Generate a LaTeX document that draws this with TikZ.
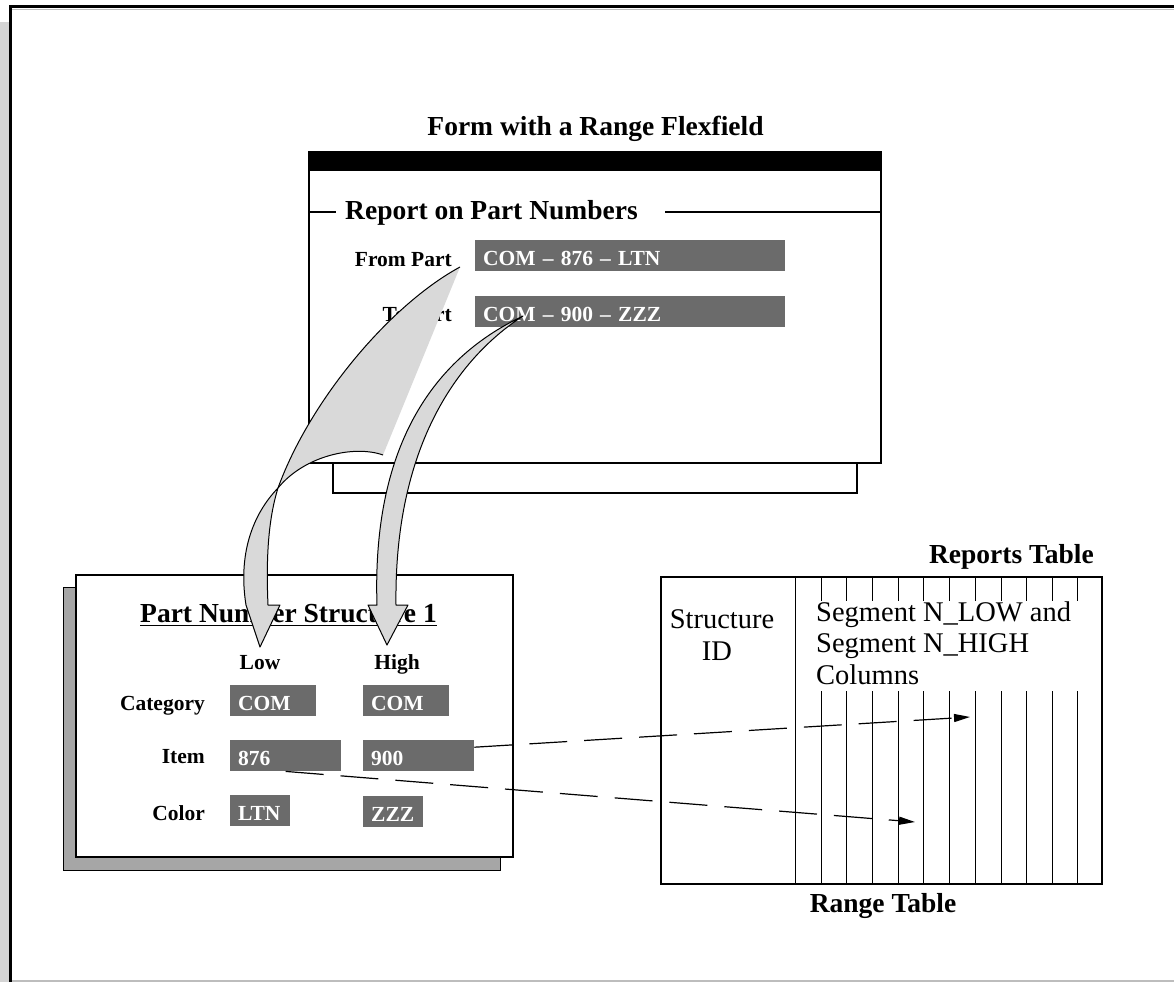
\documentclass[tikz,border=0pt]{standalone}
\usepackage{fontspec}
\setmainfont{Liberation Serif}
\usetikzlibrary{arrows.meta}
\definecolor{fieldgray}{HTML}{6B6B6B}
\definecolor{ribgray}{HTML}{D9D9D9}
\definecolor{shadowgray}{HTML}{A6A6A6}
\definecolor{stripgray}{HTML}{D4D4D4}
\definecolor{linegray}{HTML}{BDBDBD}
\newcommand\fsm{\fontsize{21.5}{26}\selectfont\bfseries}
\newcommand\flg{\fontsize{27.5}{32}\selectfont\bfseries}
\newcommand\freg{\fontsize{28.5}{32}\selectfont}
\tikzset{
  field/.style={fill=fieldgray, text=white, font=\fsm, inner xsep=8pt, inner ysep=0pt,
    minimum height=31pt, anchor=north west, align=left, text height=19pt, text depth=0pt},
  lbl/.style={font=\fsm, inner sep=0pt, anchor=base east},
  big/.style={font=\flg, inner sep=0pt, anchor=base},
  reg/.style={font=\freg, inner sep=0pt, anchor=base west},
  ribbon/.style={fill=ribgray, draw=black, line width=1pt, line join=round},
  outline/.style={draw=black, line width=1pt},
  dasharrow/.style={line width=1.2pt, dash pattern=on 38pt off 17pt, -{Triangle[length=16pt,width=8pt]}},
  thinline/.style={line width=0.9pt},
}
\begin{document}
\begin{tikzpicture}[x=1pt,y=-1pt]
\useasboundingbox (0,0) rectangle (1174,982);
% frame
\fill[stripgray] (0,22) rectangle (9,982);
\draw[line width=3pt] (10.5,982) -- (10.5,7) -- (1174,7);
\draw[linegray, line width=1pt] (12,9.5) -- (1174,9.5);
\draw[linegray, line width=1.5pt] (12,981) -- (1174,981);

% form window
\draw[line width=2pt, fill=white] (333,463) rectangle (857,493);
\draw[line width=2.5pt, fill=white] (309,152) rectangle (881,463);
\fill (309,152) rectangle (881,171);
\draw[line width=2pt] (309,212) -- (336,212) (665,212) -- (881,212);
\node[big] (formt) at (595.5,135) {Form with a Range Flexfield};
\node[big, anchor=base west] (grp) at (345,219) {Report on Part Numbers};
\node[lbl] (fromlbl) at (452,266) {From Part};
\node[lbl] (tolbl) at (452,321) {To Part};
\node[field, text width=294pt] (fromf) at (475,240) {COM -- 876 -- LTN};
\node[field, text width=294pt] (tof) at (475,296) {COM -- 900 -- ZZZ};

% part number structure box
\draw[thinline, fill=shadowgray] (63,587) rectangle (500,870);
\draw[line width=2.5pt, fill=white] (76,575) rectangle (513,857);
\node[big] (pnst) at (288.5,622) {Part Number Structure 1};
\draw[line width=1.8pt] ([yshift=-3.5pt]pnst.base west) -- ([yshift=-3.5pt]pnst.base east);
\node[lbl, anchor=base] (low) at (260,669) {Low};
\node[lbl, anchor=base] (high) at (397,669) {High};
\node[lbl] (cat) at (205,710.5) {Category};
\node[lbl] (item) at (205,763) {Item};
\node[lbl] (color) at (205,820) {Color};
\node[field, text width=70pt] (catlow) at (230,685) {COM};
\node[field, text width=70pt] (cathigh) at (363,685) {COM};
\node[field, text width=95pt] (itemlow) at (230,740) {876};
\node[field, text width=95pt] (itemhigh) at (363,740) {900};
\node[field, text width=44pt] (colorlow) at (230,795) {LTN};
\node[field, text width=44pt] (colorhigh) at (363,796) {ZZZ};

% table
\draw[line width=2.5pt] (661,577) rectangle (1102,884);
\draw[thinline] (795,577) -- (795,884);
\foreach \x in {821,846.5,872,898,923.5,949,975,1001,1026.5,1052,1077.5}{
  \draw[thinline] (\x,577) -- (\x,601) (\x,691) -- (\x,884);
}
\node[big, anchor=base east] (rept) at (1094,563) {Reports Table};
\node[big] (rangt) at (883,912) {Range Table};
\node[font=\freg, inner sep=0pt, anchor=base] (str1) at (722,628) {Structure};
\node[font=\freg, inner sep=0pt, anchor=base] (str2) at (717,660) {ID};
\node[reg] (seg1) at (816,621) {Segment N\_LOW and};
\node[reg] (seg2) at (816,652) {Segment N\_HIGH};
\node[reg] (seg3) at (816,684) {Columns};

% dashed arrows
\coordinate (t1) at (970,717);
\coordinate (t2) at (915,822);
\draw[dasharrow] ([yshift=8.5pt]itemhigh.east) -- (t1);
\draw[dasharrow] (itemlow.south) -- (t2);

% curved ribbon arrows
\path[fill=ribgray] (460,267) -- (383,455) .. controls (355,445) and (305,455) .. (278,488)
   .. controls (310,400) and (390,305) .. (460,267) -- cycle;
\draw[outline] (383,455) .. controls (355,445) and (305,455) .. (278,488);
\draw[outline] (278,488) .. controls (310,400) and (390,305) .. (460,267);
\draw[ribbon] (278,488) .. controls (252,515) and (238,555) .. (246,605) -- (260,647)
   -- (280,605) -- (268,605) .. controls (266,560) and (268,520) .. (278,488) -- cycle;
\draw[ribbon] (523,316) .. controls (430,360) and (372,450) .. (377,605) -- (368,605) -- (387,645)
   -- (408,605) -- (396,605) .. controls (394,450) and (455,360) .. (523,316) -- cycle;
\end{tikzpicture}
\end{document}
